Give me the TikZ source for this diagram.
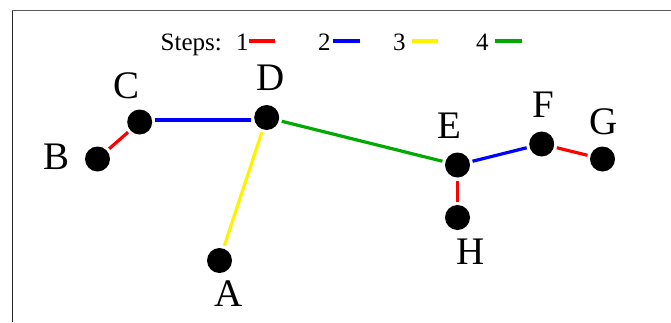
\documentclass[tikz,border=0pt]{standalone}
\usepackage{fontspec}
\setmainfont{Liberation Serif}
\definecolor{stepgreen}{RGB}{0,170,0}
\begin{document}
\begin{tikzpicture}[x=1pt,y=-1pt,
    vertex/.style={circle,fill=black,minimum size=25pt,inner sep=0pt,outer sep=3pt},
    lbl/.style={inner sep=0pt,font=\fontsize{39}{39}\selectfont},
    key/.style={inner sep=0pt,anchor=base west,font=\fontsize{25}{25}\selectfont},
    edge/.style={line width=3.2pt}]
    \useasboundingbox (0,0) rectangle (671,322);
    \draw[gray!70!black, line width=1pt] (12,10.5) -- (671,10.5);
    \draw[black!85, line width=1pt] (12,10.5) -- (12,322);
    % legend
    \node[key] (steps) at (160.5,50) {Steps:};
    \node[key] (k1) at (236,50) {1};
    \node[key] (k2) at (318,50) {2};
    \node[key] (k3) at (393,50) {3};
    \node[key] (k4) at (476,50) {4};
    \draw[edge,red] (249,41) -- (275,41);
    \draw[edge,blue] (333,41) -- (360,41);
    \draw[edge,yellow] (412,41) -- (438,41);
    \draw[edge,stepgreen] (495,41) -- (522,41);
    % vertices
    \node[vertex] (A) at (219.5,260.5) {};
    \node[vertex] (B) at (97.5,159) {};
    \node[vertex] (C) at (139.7,122) {};
    \node[vertex] (D) at (266.7,117.5) {};
    \node[vertex] (E) at (457.5,165) {};
    \node[vertex] (F) at (541.7,144) {};
    \node[vertex] (G) at (602.5,159) {};
    \node[vertex] (H) at (457.5,217.5) {};
    % labels
    \node[lbl] (lA) at (228.5,294) {A};
    \node[lbl] (lB) at (57,157) {B};
    \node[lbl] (lC) at (126.5,85.5) {C};
    \node[lbl] (lD) at (271,78) {D};
    \node[lbl] (lE) at (449,125.5) {E};
    \node[lbl] (lF) at (543,104.5) {F};
    \node[lbl] (lG) at (603.5,121.5) {G};
    \node[lbl] (lH) at (471,252) {H};
    % steps
    \draw[edge,red] (B) -- (C);
    \draw[edge,blue] ([yshift=2pt]C.east) -- ([yshift=2pt]C.east -| D.west);
    \draw[edge,yellow] (D) -- (A);
    \draw[edge,stepgreen] (D) -- (E);
    \draw[edge,blue] (E) -- (F);
    \draw[edge,red] (F) -- (G);
    \draw[edge,red] (E) -- (H);
\end{tikzpicture}
\end{document}
